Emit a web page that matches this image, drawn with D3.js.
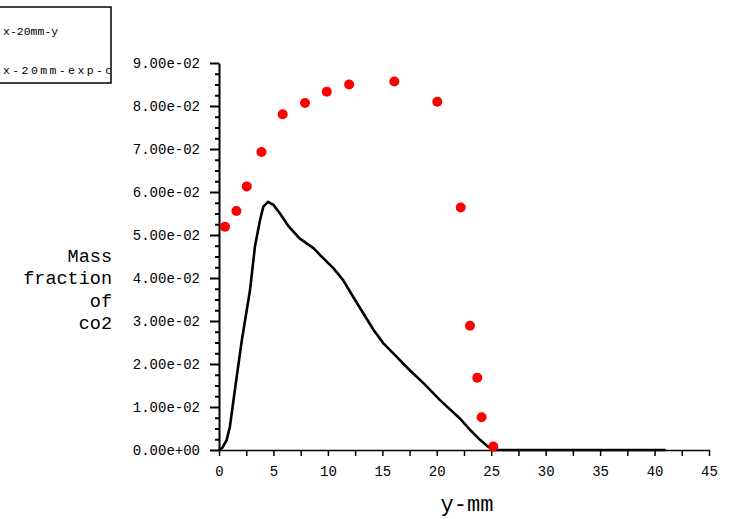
<!DOCTYPE html>
<html><head><meta charset="utf-8">
<script src="https://cdn.jsdelivr.net/npm/d3@7"></script>
<style>body{margin:0;background:#fff}svg{display:block}</style>
</head><body><svg id="c" width="731" height="519"></svg>
<script>
// simulation curve (x-20mm-y)
const simX = [0, 0.3, 0.7, 1.0, 1.5, 2.1, 2.85, 3.3, 3.77, 4.07, 4.5, 5.0, 5.6, 6.4, 7.4, 8.7, 9.3, 10.5, 11.4, 12.3, 13.25, 14.2, 15.1, 16.3, 17.5, 18.8, 20.3, 22.1, 23.05, 24.0, 24.7, 25.2, 30, 35, 41];
const simY = [0, 0.0005, 0.0023, 0.0054, 0.0147, 0.0256, 0.0372, 0.0473, 0.0535, 0.0566, 0.0577, 0.0570, 0.0550, 0.0520, 0.0492, 0.0469, 0.0453, 0.0423, 0.0395, 0.0357, 0.0318, 0.0279, 0.0248, 0.0217, 0.0186, 0.0155, 0.0116, 0.0074, 0.0047, 0.0023, 0.0008, 0, 0, 0, 0];
// experimental points (x-20mm-exp-co2)
const expX = [0.55, 1.6, 2.55, 3.9, 5.85, 7.9, 9.9, 11.95, 16.1, 20.05, 22.2, 23.05, 23.72, 24.12, 25.19];
const expY = [0.0519, 0.0556, 0.0613, 0.0693, 0.0781, 0.0807, 0.0833, 0.0850, 0.0857, 0.0810, 0.0564, 0.0289, 0.0168, 0.0076, 0.0008];

const xTickValues = [0, 5, 10, 15, 20, 25, 30, 35, 40, 45];
const xTickLabels = ["0", "5", "10", "15", "20", "25", "30", "35", "40", "45"];
const xMinorValues = [2.5, 7.5, 12.5, 17.5, 22.5, 27.5, 32.5, 37.5, 42.5];
const yTickValues = [0, 0.01, 0.02, 0.03, 0.04, 0.05, 0.06, 0.07, 0.08, 0.09];
const yTickLabels = ["0.00e+00", "1.00e-02", "2.00e-02", "3.00e-02", "4.00e-02", "5.00e-02", "6.00e-02", "7.00e-02", "8.00e-02", "9.00e-02"];
const yMinorValues = d3.range(0, 37).map(i => i * 0.0025).filter(v => Math.abs(v / 0.01 - Math.round(v / 0.01)) > 1e-6);
const yTitleLines = ["Mass", "fraction", "of", "co2"];
const xTitle = "y-mm";
const legendLabels = ["x-20mm-y", "x-20mm-exp-co2"];

const FONT = "'Liberation Mono', 'DejaVu Sans Mono', monospace";
const svg = d3.select("#c");
const x = d3.scaleLinear().domain([0, 45]).range([219, 709]);
const y = d3.scaleLinear().domain([0, 0.09]).range([450, 63]);

// y axis minor ticks
const yMinor = svg.append("g").attr("transform", "translate(219,0)")
  .call(d3.axisLeft(y).tickValues(yMinorValues).tickSize(4).tickSizeOuter(0).tickFormat(""));
yMinor.select(".domain").remove();
yMinor.selectAll("line").attr("stroke", "#000").attr("stroke-width", 2);

// y axis major
const yAx = svg.append("g").attr("transform", "translate(219,0)")
  .call(d3.axisLeft(y).tickValues(yTickValues).tickSize(9).tickSizeOuter(0).tickPadding(10)
    .tickFormat((d, i) => yTickLabels[i]));
yAx.select(".domain").attr("stroke", "#000").attr("stroke-width", 2);
yAx.selectAll("line").attr("stroke", "#000").attr("stroke-width", 2);
yAx.selectAll("text").attr("font-family", FONT).attr("font-size", 14).attr("fill", "#000");

// x axis
const xMinor = svg.append("g").attr("transform", "translate(0,450)")
  .call(d3.axisBottom(x).tickValues(xMinorValues).tickSize(6).tickSizeOuter(0).tickFormat(""));
xMinor.select(".domain").remove();
xMinor.selectAll("line").attr("stroke", "#000").attr("stroke-width", 1.5);
const xAx = svg.append("g").attr("transform", "translate(0,450)")
  .call(d3.axisBottom(x).tickValues(xTickValues).tickSize(6).tickSizeOuter(0).tickPadding(10)
    .tickFormat((d, i) => xTickLabels[i]));
xAx.select(".domain").attr("stroke", "#000").attr("stroke-width", 1.5);
xAx.selectAll("line").attr("stroke", "#000").attr("stroke-width", 1.5);
xAx.selectAll("text").attr("font-family", FONT).attr("font-size", 14).attr("fill", "#000");

// simulation line
const line = d3.line().x(d => x(d[0])).y(d => y(d[1]));
svg.append("path").datum(simX.map((v, i) => [v, simY[i]]))
  .attr("d", line).attr("fill", "none").attr("stroke", "#000").attr("stroke-width", 2.6)
  .attr("stroke-linejoin", "round");

// experimental points
svg.append("g").selectAll("circle").data(expX.map((v, i) => [v, expY[i]])).join("circle")
  .attr("cx", d => x(d[0])).attr("cy", d => y(d[1])).attr("r", 5).attr("fill", "#ff0000");

// y title
svg.append("g").selectAll("text").data(yTitleLines).join("text")
  .attr("x", 112).attr("y", (d, i) => 262 + i * 22.3).attr("text-anchor", "end")
  .attr("font-family", FONT).attr("font-size", 18.5).attr("fill", "#000").text(d => d);

// x title
svg.append("text").attr("x", 467).attr("y", 511).attr("text-anchor", "middle")
  .attr("font-family", FONT).attr("font-size", 22).attr("fill", "#000").text(xTitle);

// legend
svg.append("clipPath").attr("id", "lgclip").append("rect").attr("x", -2).attr("y", 7).attr("width", 112).attr("height", 76);
svg.append("rect").attr("x", -1).attr("y", 7).attr("width", 112).attr("height", 76)
  .attr("fill", "#fff").attr("stroke", "#000").attr("stroke-width", 1.5);
svg.append("g").attr("clip-path", "url(#lgclip)").selectAll("text").data(legendLabels).join("text")
  .attr("x", 3).attr("y", (d, i) => 35 + i * 39)
  .attr("letter-spacing", (d, i) => i === 1 ? 2.4 : 0)
  .attr("font-family", FONT).attr("font-size", 11.5).attr("fill", "#000").text(d => d);
</script></body></html>
